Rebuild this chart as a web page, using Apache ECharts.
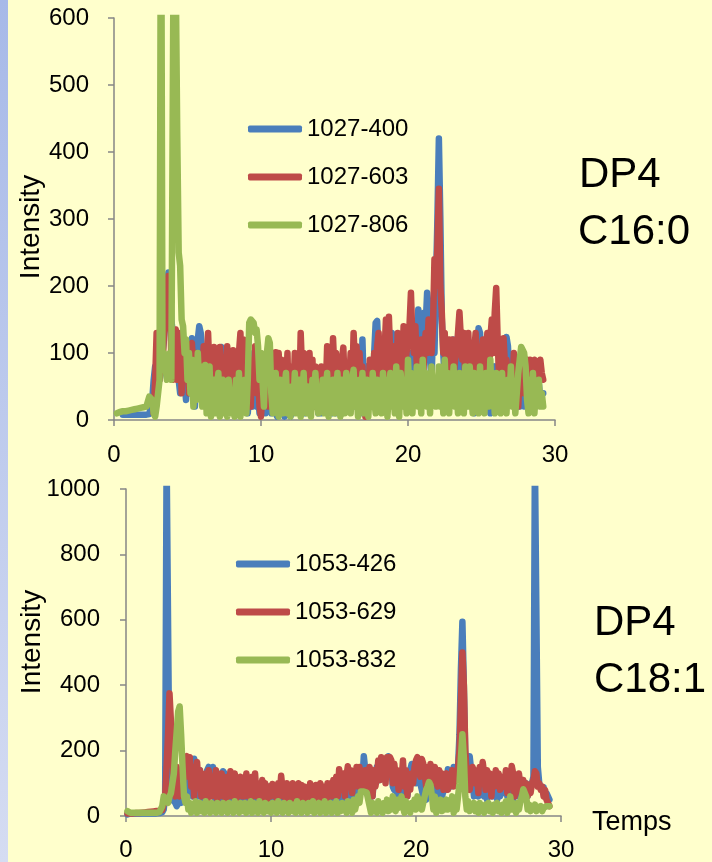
<!DOCTYPE html>
<html><head><meta charset="utf-8">
<script src="https://cdn.jsdelivr.net/npm/echarts@6/dist/echarts.min.js"></script>
<style>html,body{margin:0;padding:0;background:#FFFFCC;}#c{width:712px;height:862px;}</style>
</head><body><div id="c"></div>
<script>
// Retention time samples (Temps), 0.1 min apart
const times = [
 0.1,0.2,0.3,0.4,0.5,0.6,0.7,0.8,0.9,1.0,1.1,1.2,1.3,1.4,1.5,1.6,1.7,1.8,1.9,2.0,
 2.1,2.2,2.3,2.4,2.5,2.6,2.7,2.8,2.9,3.0,3.1,3.2,3.3,3.4,3.5,3.6,3.7,3.8,3.9,4.0,
 4.1,4.2,4.3,4.4,4.5,4.6,4.7,4.8,4.9,5.0,5.1,5.2,5.3,5.4,5.5,5.6,5.7,5.8,5.9,6.0,
 6.1,6.2,6.3,6.4,6.5,6.6,6.7,6.8,6.9,7.0,7.1,7.2,7.3,7.4,7.5,7.6,7.7,7.8,7.9,8.0,
 8.1,8.2,8.3,8.4,8.5,8.6,8.7,8.8,8.9,9.0,9.1,9.2,9.3,9.4,9.5,9.6,9.7,9.8,9.9,10.0,
 10.1,10.2,10.3,10.4,10.5,10.6,10.7,10.8,10.9,11.0,11.1,11.2,11.3,11.4,11.5,11.6,11.7,11.8,11.9,12.0,
 12.1,12.2,12.3,12.4,12.5,12.6,12.7,12.8,12.9,13.0,13.1,13.2,13.3,13.4,13.5,13.6,13.7,13.8,13.9,14.0,
 14.1,14.2,14.3,14.4,14.5,14.6,14.7,14.8,14.9,15.0,15.1,15.2,15.3,15.4,15.5,15.6,15.7,15.8,15.9,16.0,
 16.1,16.2,16.3,16.4,16.5,16.6,16.7,16.8,16.9,17.0,17.1,17.2,17.3,17.4,17.5,17.6,17.7,17.8,17.9,18.0,
 18.1,18.2,18.3,18.4,18.5,18.6,18.7,18.8,18.9,19.0,19.1,19.2,19.3,19.4,19.5,19.6,19.7,19.8,19.9,20.0,
 20.1,20.2,20.3,20.4,20.5,20.6,20.7,20.8,20.9,21.0,21.1,21.2,21.3,21.4,21.5,21.6,21.7,21.8,21.9,22.0,
 22.1,22.2,22.3,22.4,22.5,22.6,22.7,22.8,22.9,23.0,23.1,23.2,23.3,23.4,23.5,23.6,23.7,23.8,23.9,24.0,
 24.1,24.2,24.3,24.4,24.5,24.6,24.7,24.8,24.9,25.0,25.1,25.2,25.3,25.4,25.5,25.6,25.7,25.8,25.9,26.0,
 26.1,26.2,26.3,26.4,26.5,26.6,26.7,26.8,26.9,27.0,27.1,27.2,27.3,27.4,27.5,27.6,27.7,27.8,27.9,28.0,
 28.1,28.2,28.3,28.4,28.5,28.6,28.7,28.8,28.9,29.0,29.1,29.2
];

// Top panel: DP4 C16:0
const topNames = ['1027-400','1027-603','1027-806'];
const topBlue = [
 null,null,null,null,null,8,8,8,8,8,8,8,8,8,8,8,8,8,8,8,
 8,8,8,9,10,30,60,80,70,55,60,70,100,120,160,200,220,215,150,130,
 110,100,70,60,40,90,100,60,30,80,110,90,122,60,20,80,120,140,130,100,
 80,40,90,110,60,30,20,70,100,50,90,100,109,60,40,80,100,40,70,100,
 30,60,90,20,50,80,40,90,50,30,10,40,60,20,100,60,20,40,10,20,
 40,20,10,60,30,50,10,30,40,10,5,30,20,60,40,5,20,30,10,5,
 30,10,40,50,70,20,40,10,30,10,60,30,10,50,30,20,40,50,10,30,
 10,40,20,70,30,20,50,10,30,60,10,40,30,60,10,90,40,20,50,40,
 70,30,20,60,100,50,30,10,120,40,60,80,30,20,50,30,100,145,148,100,
 40,60,40,80,60,20,50,80,130,90,120,60,30,40,50,30,60,40,50,60,
 100,70,40,60,130,90,165,150,80,120,160,140,190,170,90,60,130,100,200,300,
 420,300,150,100,60,90,110,60,40,80,120,90,60,100,130,80,70,40,20,60,
 100,60,50,20,10,70,90,137,130,60,40,50,120,70,60,10,30,80,60,80,
 40,90,60,30,20,90,124,110,60,40,90,70,30,50,40,20,60,50,20,60,
 30,60,70,40,50,30,20,50,55,30,40,40
];
const topRed = [
 null,null,null,null,null,null,null,null,null,null,null,null,null,null,null,null,null,null,null,null,
 null,null,null,null,null,null,10,60,130,90,60,100,80,130,150,190,215,200,90,60,
 120,135,60,100,130,40,90,120,60,110,40,100,115,70,30,100,60,90,40,60,
 110,50,90,130,70,100,40,109,60,100,30,109,80,20,60,30,110,70,100,60,
 104,50,90,40,100,130,60,120,30,100,50,80,20,90,60,110,40,70,20,5,
 40,90,60,100,20,70,40,100,60,101,30,100,60,90,20,80,40,100,10,60,
 80,40,100,60,90,30,130,70,100,20,80,50,100,40,90,20,80,50,70,40,
 80,30,70,40,110,60,90,30,122,70,100,40,60,30,90,108,50,80,40,60,
 100,50,130,80,110,40,100,60,80,30,5,60,30,90,60,40,100,60,110,130,
 70,120,40,100,150,60,154,90,60,110,100,40,130,30,110,60,140,80,100,120,
 140,190,120,100,140,80,100,60,120,40,100,130,100,150,120,100,140,240,200,260,
 345,200,160,100,130,60,100,120,80,120,60,90,100,130,161,120,90,130,50,90,
 130,80,60,110,100,130,90,40,100,70,120,60,100,130,60,120,150,100,160,197,
 120,60,100,40,122,80,90,30,80,60,50,100,80,40,20,70,60,80,40,60,
 90,40,90,60,80,90,60,80,70,90,70,60
];
const topGreen = [
 null,10,11,12,12,13,13,13,14,14,14,15,15,16,16,17,17,18,18,19,
 19,20,20,35,35,30,10,5,20,40,60,900,80,100,100,60,60,100,60,60,
 900,900,430,250,230,150,140,100,120,60,100,40,90,20,60,30,100,50,80,20,
 60,82,10,50,80,5,40,60,10,50,70,5,40,60,10,50,5,60,30,10,
 40,5,60,20,70,5,50,30,60,10,60,145,150,148,145,130,135,110,60,100,
 60,20,90,100,122,115,40,10,50,70,20,5,60,30,10,50,70,10,40,5,
 50,20,70,10,40,60,5,30,70,20,10,50,40,5,60,20,70,30,10,50,
 20,60,10,40,70,5,50,20,60,10,30,70,20,5,60,40,10,70,20,50,
 10,60,75,20,40,5,60,30,70,10,40,60,5,50,20,70,30,10,60,20,
 50,10,70,30,60,5,40,70,20,50,10,80,30,5,70,40,20,60,10,90,
 40,70,10,60,30,80,20,50,10,90,40,70,20,60,10,80,30,60,20,40,
 80,20,60,10,90,30,70,10,60,40,80,20,50,10,70,30,60,10,80,40,
 20,80,40,10,70,30,60,10,80,20,50,10,70,40,20,90,30,60,10,70,
 30,60,10,70,20,50,10,60,30,80,20,50,10,40,70,90,109,110,100,80,
 30,10,60,20,70,10,50,30,60,20,40,20
];

// Bottom panel: DP4 C18:1
const botNames = ['1053-426','1053-629','1053-832'];
const botBlue = [
 5,8,8,8,8,8,8,8,8,8,8,8,8,8,8,8,8,8,8,8,
 8,8,9,10,12,20,60,1100,1100,80,60,50,45,40,30,45,60,40,42,100,
 150,60,120,90,140,60,175,170,100,60,140,90,50,120,60,140,150,80,120,150,
 70,40,90,60,130,40,137,130,60,50,40,100,70,40,90,60,50,100,70,90,
 50,90,60,40,90,60,80,40,60,70,40,60,90,50,60,40,80,90,40,60,
 50,70,30,60,40,60,85,60,40,70,50,60,70,40,85,50,30,60,70,50,
 80,40,70,50,60,40,70,60,50,30,60,40,70,60,50,40,60,30,50,60,
 40,50,30,60,70,50,80,60,40,50,60,70,50,90,60,100,80,60,90,60,
 120,80,100,183,180,100,60,70,90,60,110,100,150,120,110,170,130,160,120,150,
 183,180,150,90,80,100,60,50,70,60,90,80,100,60,90,140,159,155,120,100,
 120,150,100,80,60,90,50,100,70,90,60,80,50,100,60,90,70,60,80,100,
 80,143,140,90,100,150,130,120,150,250,450,594,400,180,150,120,183,180,100,60,
 80,90,60,70,120,100,60,110,50,90,80,100,60,90,70,50,80,60,90,70,
 70,100,60,90,120,80,50,90,70,90,60,80,50,90,70,100,60,80,90,100,
 120,1100,1100,150,100,88,90,88,60,70,60,50
];
const botRed = [
 8,8,8,8,8,9,9,9,9,10,10,10,11,11,12,12,13,13,14,14,
 15,15,16,17,18,20,60,150,250,375,375,200,100,60,150,100,60,120,90,140,
 160,183,120,180,90,150,60,130,165,100,140,60,120,80,130,50,140,100,60,120,
 80,140,50,120,90,130,60,110,40,120,90,137,60,100,130,50,110,80,120,60,
 110,60,130,80,100,50,120,70,130,60,100,80,50,110,70,100,40,90,80,60,
 98,70,90,50,100,60,123,80,90,50,100,70,95,40,100,60,90,70,100,50,
 95,60,90,40,85,70,100,50,90,60,95,70,50,100,80,60,90,40,100,70,
 100,60,110,80,120,60,143,100,80,130,60,120,152,90,140,70,130,100,150,90,
 150,100,130,90,140,80,120,150,100,60,140,90,120,170,110,180,130,160,100,180,
 150,180,170,100,160,120,140,80,130,100,170,90,140,60,120,80,130,100,150,170,
 180,150,120,174,160,130,90,150,110,159,130,100,150,120,90,140,100,130,80,120,
 130,80,120,100,140,90,120,130,150,200,350,500,400,200,130,90,80,120,150,130,
 100,140,70,150,120,165,130,80,140,100,130,60,120,90,140,100,130,80,120,100,
 90,140,70,120,100,153,130,60,110,80,130,90,60,110,80,100,60,90,70,100,
 110,137,130,90,100,80,90,60,80,50,40,30
];
const botGreen = [
 15,12,10,10,10,10,10,10,10,10,10,10,10,10,10,10,10,10,10,10,
 10,10,12,15,30,60,50,45,40,60,70,100,130,200,260,320,335,250,150,60,
 40,60,20,40,10,35,20,45,10,30,40,15,35,10,45,20,30,10,40,20,
 35,10,40,15,30,10,40,20,35,10,40,15,30,10,45,20,35,10,40,25,
 15,40,10,35,20,45,10,40,20,30,10,45,20,35,10,40,25,15,35,10,
 40,15,30,10,45,20,35,10,40,20,30,10,40,25,15,35,10,45,20,30,
 10,40,20,35,10,40,25,15,45,10,30,20,40,10,35,20,45,10,30,15,
 40,10,35,20,45,10,30,15,40,20,35,10,45,20,30,10,50,20,40,60,
 40,75,73,75,70,72,75,30,10,40,20,35,10,45,20,30,10,40,20,50,
 15,45,20,60,30,15,50,25,40,60,30,10,45,20,35,10,40,25,50,20,
 60,30,50,20,40,60,80,90,104,95,60,20,60,10,40,25,50,15,35,20,
 50,20,40,25,60,10,45,20,60,100,180,250,180,60,20,45,15,35,20,40,
 15,35,10,40,20,30,10,35,20,40,15,30,10,35,20,40,15,30,10,35,
 20,45,10,30,60,20,40,30,10,40,20,45,60,82,80,60,20,35,15,30,
 20,35,15,25,20,30,15,25,20,30,25,30
];

// Axis ranges / ticks
const xTicks = [0,10,20,30];
const topYTicks = [0,100,200,300,400,500,600];
const botYTicks = [0,200,400,600,800,1000];

const FONT = '"Liberation Sans", Arial, sans-serif';
const colors = ['#4A7EBB','#BE4B48','#98B954'];
const axisCol = '#868686';

function pairs(vals){ return times.map((t,i)=>[t, vals[i]]); }

function mkSeries(name, vals, idx, col){
  return {
    name, type:'line', xAxisIndex:idx, yAxisIndex:idx,
    data: pairs(vals), symbol:'none', showSymbol:false, clip:true,
    lineStyle:{width:6.5, color:col, cap:'round', join:'round'},
    itemStyle:{color:col}, emphasis:{disabled:true}, animation:false
  };
}

function xAx(idx, margin){
  return {
    gridIndex:idx, type:'value', min:xTicks[0], max:xTicks[xTicks.length-1],
    interval:xTicks[1]-xTicks[0],
    axisLine:{show:true, onZero:false, lineStyle:{color:axisCol, width:1.5}},
    axisTick:{show:true, length:6, lineStyle:{color:axisCol, width:1.5}},
    axisLabel:{fontSize:24, color:'#000', margin:margin, fontFamily:FONT, formatter:v=>String(v)},
    splitLine:{show:false}
  };
}
function yAx(idx, ticks, margin){
  return {
    gridIndex:idx, type:'value', min:ticks[0], max:ticks[ticks.length-1],
    interval:ticks[1]-ticks[0],
    axisLine:{show:true, lineStyle:{color:axisCol, width:1.5}},
    axisTick:{show:true, length:6, lineStyle:{color:axisCol, width:1.5}},
    axisLabel:{fontSize:24, color:'#000', margin:margin, fontFamily:FONT, formatter:v=>String(v)},
    splitLine:{show:false}
  };
}
function legend(names, left, top){
  return {
    orient:'vertical', left, top, padding:0, itemWidth:54, itemHeight:7, itemGap:24,
    icon:'roundRect', data:names, selectedMode:false,
    textStyle:{fontSize:24, color:'#000', fontFamily:FONT, lineHeight:24}
  };
}
function txt(text, x, y, size, rot){
  return {type:'text', x, y, rotation:rot||0, silent:true,
    style:{text, fill:'#000', font: size+'px '+FONT, textAlign: rot?'center':'left', textVerticalAlign:'middle'}};
}

const chart = echarts.init(document.getElementById('c'), null, {renderer:'canvas'});
chart.setOption({
  backgroundColor:'#FFFFCC',
  animation:false,
  grid:[
    {left:114, top:18, width:441, height:402},
    {left:126, top:489, width:435, height:328}
  ],
  xAxis:[xAx(0,23), xAx(1,22)],
  yAxis:[yAx(0,topYTicks,25), yAx(1,botYTicks,26)],
  legend:[legend(topNames,248,117), legend(botNames,236,552)],
  series:[
    mkSeries(topNames[0], topBlue, 0, colors[0]),
    mkSeries(topNames[1], topRed, 0, colors[1]),
    mkSeries(topNames[2], topGreen, 0, colors[2]),
    mkSeries(botNames[0], botBlue, 1, colors[0]),
    mkSeries(botNames[1], botRed, 1, colors[1]),
    mkSeries(botNames[2], botGreen, 1, colors[2])
  ],
  graphic:[
    {type:'rect', shape:{x:0,y:0,width:8,height:862}, silent:true,
      style:{fill:new echarts.graphic.LinearGradient(0,0,0,1,[{offset:0,color:'#A7B9E8'},{offset:1,color:'#D5DCF2'}])}},
    txt('Intensity', 31, 227, 28, Math.PI/2),
    txt('Intensity', 32, 642, 28, Math.PI/2),
    txt('DP4', 579, 175, 42),
    txt('C16:0', 578, 232, 42),
    txt('DP4', 594, 623, 42),
    txt('C18:1', 594, 680, 42),
    txt('Temps', 592, 823, 27)
  ]
});
</script></body></html>
